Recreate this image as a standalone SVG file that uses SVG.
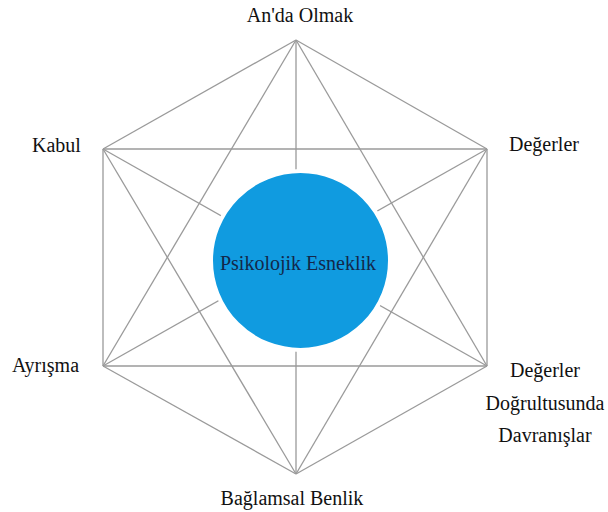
<svg xmlns="http://www.w3.org/2000/svg" width="608" height="512" viewBox="0 0 608 512">
<style>
.e{stroke:#9a9a9a;stroke-width:1.3;fill:none}
</style>
<rect width="608" height="512" fill="#fff"/>
<g id="connectors">
<line class="e" x1="296" y1="40" x2="487" y2="149"/>
<line class="e" x1="487" y1="149" x2="487" y2="366"/>
<line class="e" x1="487" y1="366" x2="296" y2="474"/>
<line class="e" x1="296" y1="474" x2="103" y2="366"/>
<line class="e" x1="103" y1="366" x2="103" y2="149"/>
<line class="e" x1="103" y1="149" x2="296" y2="40"/>
<line class="e" x1="296" y1="40" x2="487" y2="366"/>
<line class="e" x1="487" y1="366" x2="103" y2="366"/>
<line class="e" x1="103" y1="366" x2="296" y2="40"/>
<line class="e" x1="103" y1="149" x2="487" y2="149"/>
<line class="e" x1="487" y1="149" x2="296" y2="474"/>
<line class="e" x1="296" y1="474" x2="103" y2="149"/>
<line class="e" x1="296" y1="40" x2="296" y2="474"/>
<line class="e" x1="103" y1="149" x2="487" y2="366"/>
<line class="e" x1="487" y1="149" x2="103" y2="366"/>
</g>
<g font-family="Liberation Serif, DejaVu Serif, serif" font-size="20" fill="#111">
<g id="center">
<circle cx="300.5" cy="260.5" r="89.5" fill="#109be0" stroke="#fff" stroke-width="4"/>
<text x="298" y="270" text-anchor="middle" fill="#13284a">Psikolojik Esneklik</text>
</g>
<g id="n-anda"><text x="300" y="22" text-anchor="middle">An'da Olmak</text></g>
<g id="n-degerler"><text x="509" y="151">Değerler</text></g>
<g id="n-davranis"><text text-anchor="middle"><tspan x="545" y="377">Değerler</tspan><tspan x="545" y="410">Doğrultusunda</tspan><tspan x="545" y="442">Davranışlar</tspan></text></g>
<g id="n-baglamsal"><text x="292" y="505" text-anchor="middle">Bağlamsal Benlik</text></g>
<g id="n-ayrisma"><text x="12" y="372">Ayrışma</text></g>
<g id="n-kabul"><text x="32" y="152">Kabul</text></g>
</g>
</svg>
